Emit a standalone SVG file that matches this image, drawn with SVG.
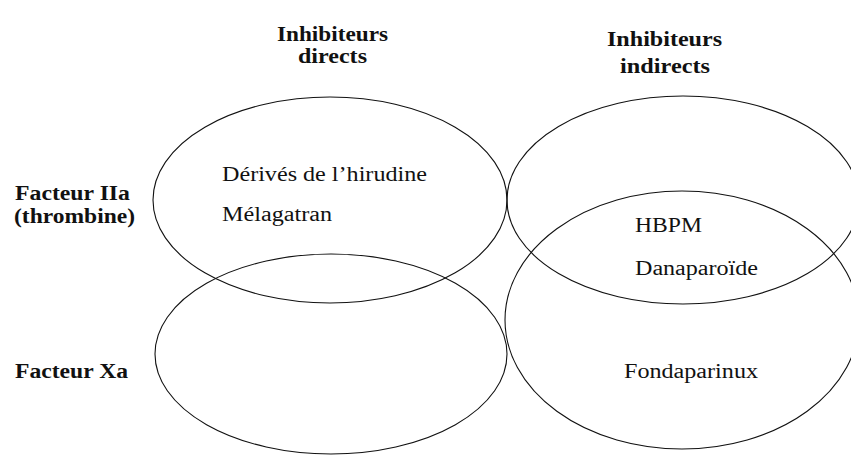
<svg xmlns="http://www.w3.org/2000/svg" width="851" height="455" viewBox="0 0 851 455">
<style>
.bg{fill:#fff}
.set{fill:none;stroke:#111;stroke-width:1.1}
.hd{font-family:"Liberation Serif","Times New Roman",serif;font-weight:bold;font-size:20px;fill:#111}
.tx{font-family:"Liberation Serif","Times New Roman",serif;font-size:20px;fill:#111}
</style>
<rect class="bg" x="0" y="0" width="851" height="455"/>
<g id="headers">
<text class="hd" x="277" y="41" textLength="111" lengthAdjust="spacingAndGlyphs">Inhibiteurs</text>
<text class="hd" x="298" y="63" textLength="69" lengthAdjust="spacingAndGlyphs">directs</text>
<text class="hd" x="607" y="46" textLength="115" lengthAdjust="spacingAndGlyphs">Inhibiteurs</text>
<text class="hd" x="620" y="73" textLength="90" lengthAdjust="spacingAndGlyphs">indirects</text>
<text class="hd" x="15" y="200" textLength="115" lengthAdjust="spacingAndGlyphs">Facteur IIa</text>
<text class="hd" x="14" y="223" textLength="121" lengthAdjust="spacingAndGlyphs">(thrombine)</text>
<text class="hd" x="15" y="378" textLength="113" lengthAdjust="spacingAndGlyphs">Facteur Xa</text>
</g>
<g id="direct-IIa">
<ellipse class="set" cx="330" cy="200" rx="177" ry="103"/>
<text class="tx" x="222" y="181" textLength="205" lengthAdjust="spacingAndGlyphs">Dérivés de l’hirudine</text>
<text class="tx" x="222" y="221" textLength="110" lengthAdjust="spacingAndGlyphs">Mélagatran</text>
</g>
<g id="direct-Xa">
<ellipse class="set" cx="331" cy="354" rx="176" ry="100"/>
</g>
<g id="indirect-IIa">
<ellipse class="set" cx="683" cy="200" rx="176" ry="104"/>
</g>
<g id="indirect-Xa">
<ellipse class="set" cx="682" cy="320" rx="177" ry="129"/>
<text class="tx" x="624" y="378" textLength="134" lengthAdjust="spacingAndGlyphs">Fondaparinux</text>
</g>
<g id="overlap-indirect">
<text class="tx" x="635" y="232" textLength="67" lengthAdjust="spacingAndGlyphs">HBPM</text>
<text class="tx" x="635" y="275" textLength="123" lengthAdjust="spacingAndGlyphs">Danaparoïde</text>
</g>
</svg>
